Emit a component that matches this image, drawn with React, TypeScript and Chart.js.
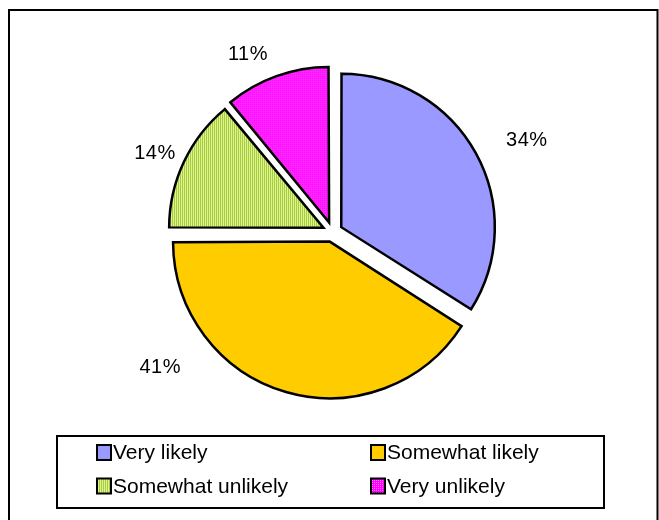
import React, { useEffect, useRef } from "react";
import { Chart, registerables } from "chart.js";

Chart.register(...registerables);

// ---- data ----
const categories = ["Very likely", "Somewhat likely", "Somewhat unlikely", "Very unlikely"];
const shares = [34, 41, 14, 11];
const solidColors = ["#9999FF", "#FFCC00", null, null];

const FONT = '"Liberation Sans", Arial, sans-serif';

function stripePattern(): CanvasPattern | string {
  const c = document.createElement("canvas");
  c.width = 2;
  c.height = 2;
  const g = c.getContext("2d");
  if (!g) return "#C8E878";
  g.fillStyle = "#DDF590";
  g.fillRect(0, 0, 1, 2);
  g.fillStyle = "#A9CC3E";
  g.fillRect(1, 0, 1, 2);
  return g.createPattern(c, "repeat") || "#C8E878";
}

function dotPattern(): CanvasPattern | string {
  const c = document.createElement("canvas");
  c.width = 2;
  c.height = 2;
  const g = c.getContext("2d");
  if (!g) return "#FF00FF";
  g.fillStyle = "#FF00FF";
  g.fillRect(0, 0, 2, 2);
  g.fillStyle = "#FF77FF";
  g.fillRect(0, 0, 1, 1);
  return g.createPattern(c, "repeat") || "#FF00FF";
}

const framePlugin = {
  id: "frame",
  beforeDraw(chart: any) {
    const ctx = chart.ctx;
    ctx.save();
    ctx.fillStyle = "#ffffff";
    ctx.fillRect(0, 0, chart.width, chart.height);
    ctx.strokeStyle = "#000000";
    ctx.lineWidth = 2;
    ctx.strokeRect(9, 10, 648.5, 600);
    ctx.restore();
  },
};

// label placement: polar position (degrees clockwise from 12 o'clock, px from pie center)
const labelPlacement = [
  { angle: 64.7, dist: 215 },
  { angle: 231.9, dist: 219 },
  { angle: 293.8, dist: 194 },
  { angle: 334.6, dist: 197 },
];

const labelsPlugin = {
  id: "pctLabels",
  afterDatasetsDraw(chart: any) {
    const ctx = chart.ctx;
    const meta = chart.getDatasetMeta(0);
    const values = chart.data.datasets[0].data as number[];
    ctx.save();
    ctx.font = `20px ${FONT}`;
    try { (ctx as any).letterSpacing = "0.5px"; } catch (e) {}
    ctx.fillStyle = "#000000";
    ctx.textAlign = "center";
    ctx.textBaseline = "middle";
    meta.data.forEach((arc: any, i: number) => {
      const p = labelPlacement[i];
      const a = (p.angle * Math.PI) / 180;
      const x = arc.x + p.dist * Math.sin(a);
      const y = arc.y - p.dist * Math.cos(a);
      ctx.fillText(`${values[i]}%`, x, y);
    });
    ctx.restore();
  },
};

const legendPlugin = {
  id: "boxLegend",
  afterDraw(chart: any) {
    const ctx = chart.ctx;
    const ds = chart.data.datasets[0];
    const labels = chart.data.labels as string[];
    ctx.save();
    ctx.strokeStyle = "#000000";
    ctx.lineWidth = 2;
    ctx.strokeRect(57, 436, 547, 72);
    const colX = [97, 371];
    const rowY = [452.5, 486];
    ctx.font = `21px ${FONT}`;
    ctx.textBaseline = "middle";
    ctx.textAlign = "left";
    labels.forEach((lab, i) => {
      const x = colX[i % 2];
      const y = rowY[Math.floor(i / 2)];
      ctx.fillStyle = ds.backgroundColor[i];
      ctx.fillRect(x, y - 7.5, 14, 15);
      ctx.strokeStyle = "#000000";
      ctx.lineWidth = 2;
      ctx.strokeRect(x, y - 7.5, 14, 15);
      ctx.fillStyle = "#000000";
      ctx.fillText(lab, x + 16, y + 1);
    });
    ctx.restore();
  },
};

function PieChart() {
  const ref = useRef<HTMLCanvasElement | null>(null);
  useEffect(() => {
    if (!ref.current) return;
    const bg = solidColors.map((c, i) =>
      c ? c : i === 2 ? stripePattern() : dotPattern()
    );
    const chart = new Chart(ref.current, {
      type: "pie",
      data: {
        labels: categories,
        datasets: [
          {
            data: shares,
            backgroundColor: bg as any,
            borderColor: "#000000",
            borderWidth: 2.5,
            borderJoinStyle: "miter",
            offset: 40,
            hoverOffset: 0,
          } as any,
        ],
      },
      options: {
        responsive: false,
        animation: false,
        devicePixelRatio: 1,
        radius: 152,
        rotation: 0,
        layout: { padding: { left: 6, right: 0, top: 0, bottom: 56 } },
        plugins: {
          legend: { display: false },
          tooltip: { enabled: false },
          title: { display: false },
        },
        events: [],
      } as any,
      plugins: [framePlugin, labelsPlugin, legendPlugin],
    });
    return () => chart.destroy();
  }, []);
  return (
    <canvas
      ref={ref}
      width={659}
      height={520}
      style={{ position: "fixed", left: 0, top: 0, width: 659, height: 520, display: "block" }}
    />
  );
}

export default function App() {
  return <PieChart />;
}
